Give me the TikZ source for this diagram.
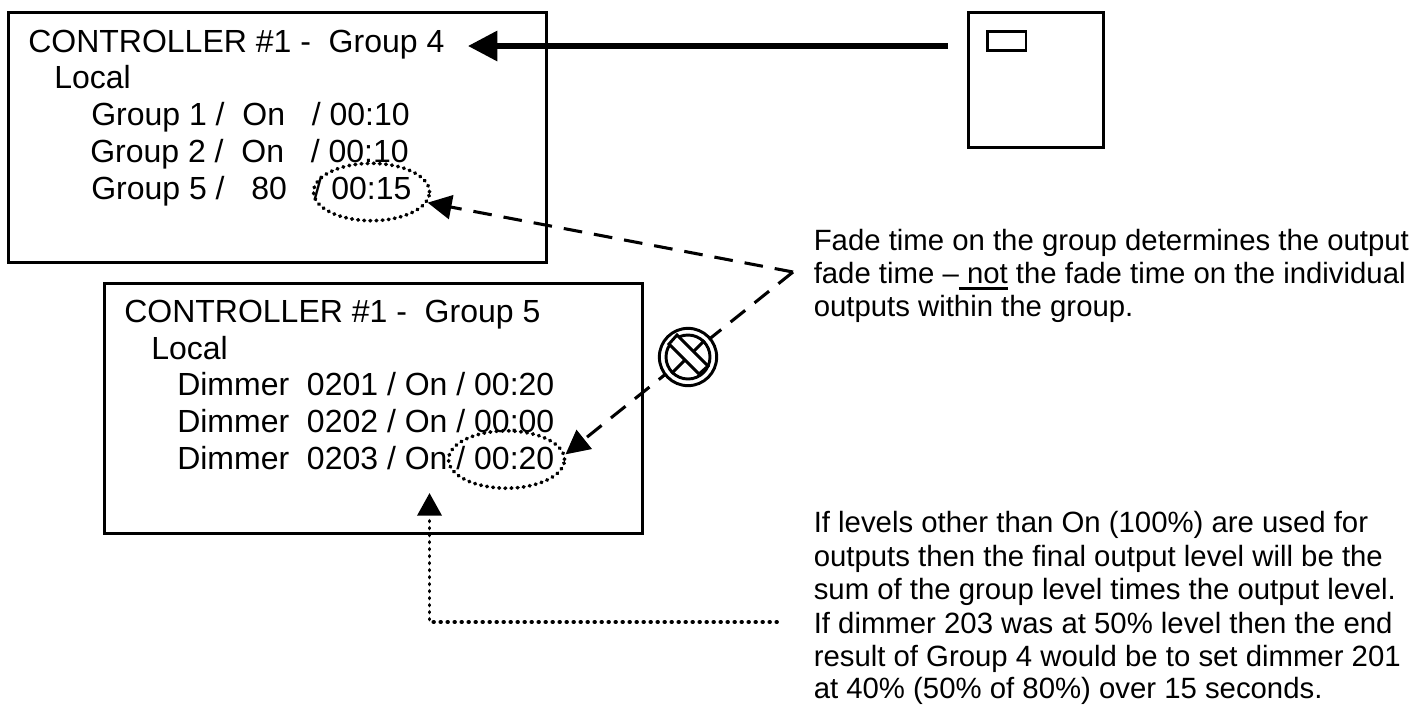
\documentclass[tikz,border=0pt]{standalone}
\usepackage{fontspec}
\setmainfont{Liberation Sans}
\usetikzlibrary{shapes.geometric,arrows.meta}

\newcommand{\barunder}[1]{\setbox0\hbox{#1}\rlap{\rule[-5.2pt]{\wd0}{2.2pt}}\box0\relax}

\tikzset{
  frame/.style={draw, line width=2.3pt, anchor=north west, inner sep=0pt},
  label/.style={anchor=base west, inner sep=0pt, font=\fontsize{24}{28}\selectfont},
  note/.style={anchor=base west, inner sep=0pt, font=\fontsize{22}{26}\selectfont},
  ring/.style={draw, ellipse, line width=2.8pt, inner sep=0pt, line cap=round, dash pattern=on 0.5pt off 4.1pt},
  dashline/.style={line width=2.3pt, dash pattern=on 14pt off 9pt, -{Triangle[length=18pt,width=18pt]}},
  dotline/.style={line width=2.8pt, line cap=round, dash pattern=on 0.5pt off 4.75pt, -{Triangle[length=17pt,width=18pt]}},
  heavyline/.style={line width=4pt, -{Triangle[length=22pt,width=22pt]}}
}

\begin{document}
\begin{tikzpicture}[x=0.75pt, y=-0.75pt]
    \useasboundingbox (0,0) rectangle (1427,704);

    % the three frames
    \node[frame, minimum width=403.5pt, minimum height=187.5pt] (groupfour) at (7,11) {};
    \node[frame, minimum width=403.5pt, minimum height=187.5pt] (groupfive) at (103,282) {};
    \node[frame, minimum width=101.5pt, minimum height=101.5pt] (panel) at (967,11) {};
    \node[frame, line width=2pt, minimum width=29pt, minimum height=14.5pt] (panelkey) at (986,30) {};

    % first frame
    \foreach \i/\x/\y/\txt in {1/28/52/{CONTROLLER \#1 -~~Group 4},
                               2/54/88/{Local},
                               3/91/125/{Group 1 /~~On~~~/ 00:10},
                               4/90/162/{Group 2 /~~On~~~/ 00:10},
                               5/91/199/{Group 5 /~~~80~~~/ 00:15}} {
        \node[label] (four\i) at (\x,\y) {\txt};
    }

    % second frame
    \foreach \i/\x/\y/\txt in {1/124/322/{CONTROLLER \#1 -~~Group 5},
                               2/151/359/{Local},
                               3/177/395/{Dimmer~~0201 / On / 00:20},
                               4/177/432/{Dimmer~~0202 / On / 00:00},
                               5/177/469/{Dimmer~~0203 / On / 00:20}} {
        \node[label] (five\i) at (\x,\y) {\txt};
    }

    % notes on the right
    \foreach \i/\y/\txt in {1/250/{Fade time on the group determines the output},
                            2/283/{fade time --\barunder{~not} the fade time on the individual},
                            3/316/{outputs within the group.}} {
        \node[note] (fade\i) at (813.5,\y) {\txt};
    }
    \foreach \i/\y/\txt in {1/532.5/{If levels other than On (100\%) are used for},
                            2/566/{outputs then the final output level will be the},
                            3/599.5/{sum of the group level times the output level.},
                            4/633/{If dimmer 203 was at 50\% level then the end},
                            5/666.5/{result of Group 4 would be to set dimmer 201},
                            6/698/{at 40\% (50\% of 80\%) over 15 seconds.}} {
        \node[note] (sum\i) at (813.5,\y) {\txt};
    }

    \node[ring, minimum width=87pt, minimum height=43pt] (timefour) at (371.5,192) {};
    \node[ring, minimum width=87pt, minimum height=43pt] (timefive) at (506.5,459.5) {};

    \coordinate (apex) at (793,272);
    \coordinate (panelarm) at (948,46);
    \coordinate (titletip) at (468,46);
    \coordinate (dotstart) at (777,622);
    \coordinate (dottip) at (429.5,493);

    \draw[heavyline] (panelarm) -- (titletip);
    \draw[dashline] (apex) -- (timefour);
    \draw[dashline] (apex) -- (timefive.5);
    \draw[dotline] (dotstart) -| (dottip);

    % crossed-out sign on the dashed line
    \node[circle, draw, fill=white, line width=2.2pt, minimum size=43pt, inner sep=0pt] (nogo) at (688,357) {};
    \node[circle, draw, line width=2.2pt, minimum size=33pt, inner sep=0pt] (nogoinner) at (688,357) {};
    \draw[line width=2.2pt] (nogoinner.45) -- (nogoinner.225);
    \draw[line width=2.2pt, fill=white] (669,344) -- (699,374) -- (708,366) -- (677,335) -- cycle;
\end{tikzpicture}
\end{document}
